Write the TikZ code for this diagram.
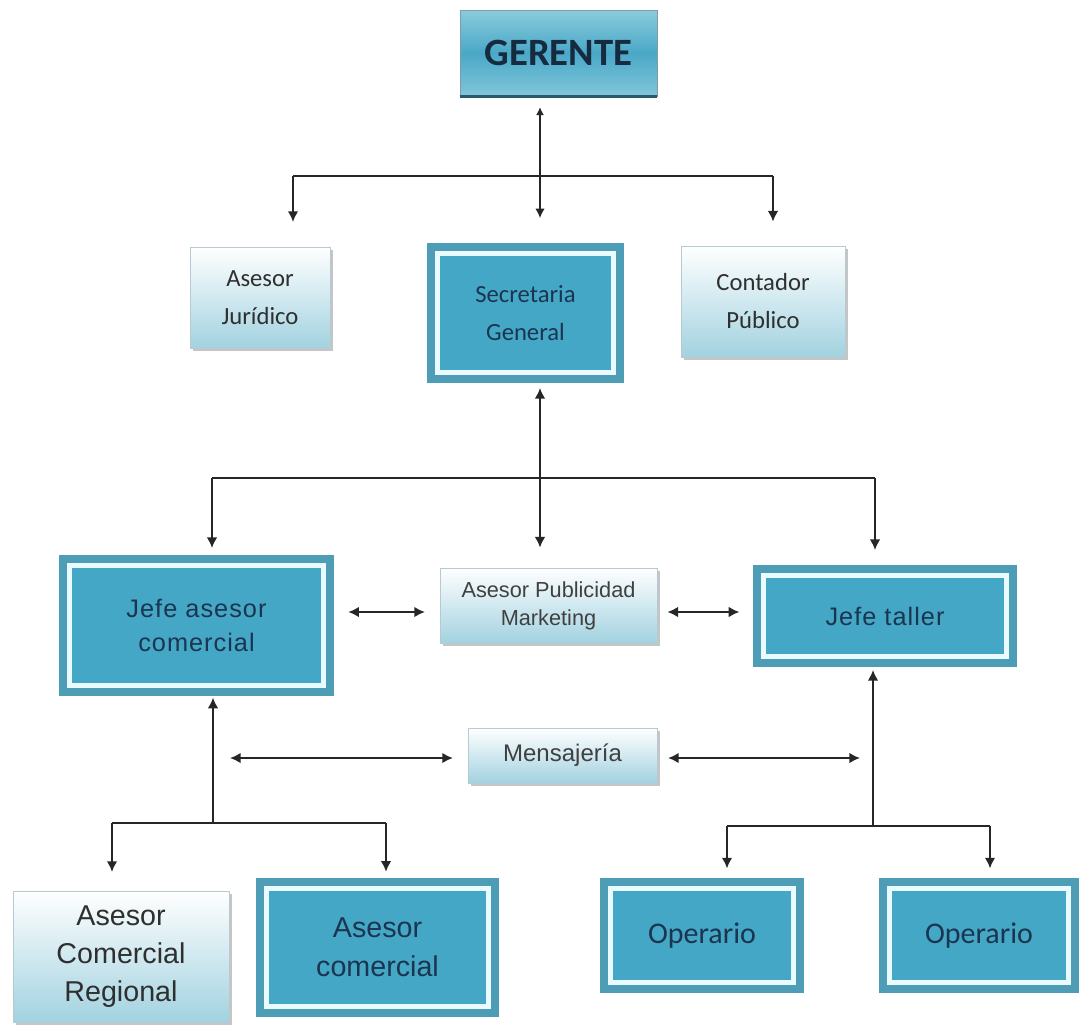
\documentclass[tikz,border=0pt]{standalone}
\usepackage{fontspec}
\setmainfont{Carlito}
\newfontfamily\arialf{Liberation Sans}
\newfontfamily\arialsp[LetterSpace=4]{Liberation Sans}
\usetikzlibrary{arrows.meta,shadows,calc}
\definecolor{tout}{HTML}{4C9DB5}
\definecolor{tin}{HTML}{45A7C6}
\definecolor{tframe}{HTML}{EAFBFF}
\definecolor{ttext}{HTML}{1B3550}
\definecolor{lbot}{HTML}{A2D2E0}
\definecolor{lborder}{HTML}{B5CBD1}
\definecolor{gtop}{HTML}{8ACBDC}
\definecolor{gmid}{HTML}{4AA8C7}
\definecolor{gbot}{HTML}{80C6DA}
\definecolor{gdark}{HTML}{2A5868}
\definecolor{ltext}{HTML}{2F2F2F}
\newcommand\mkbox[7]{%
  \pgfmathsetmacro\bcx{(#2+#4)/2}\pgfmathsetmacro\bcy{(#3+#5)/2}%
  \pgfmathsetmacro\bww{(#4-#2)*0.75}\pgfmathsetmacro\bhh{(#5-#3)*0.75}%
  \node[#6, minimum width=\bww pt, minimum height=\bhh pt] (#1) at (\bcx,\bcy) {#7};}
\begin{document}
\begin{tikzpicture}[x=0.75pt,y=-0.75pt,
  base/.style={rectangle, inner sep=0pt, align=center},
  dbox/.style={base, fill=tout, text=ttext,
    path picture={\draw[tframe, line width=3.6pt, fill=tin]
      ([shift={(7.8pt,7.8pt)}]path picture bounding box.south west) rectangle
      ([shift={(-7.8pt,-7.8pt)}]path picture bounding box.north east);}},
  lbox/.style={base, top color=white, bottom color=lbot, draw=lborder, line width=0.6pt, text=ltext,
    drop shadow={shadow xshift=2pt, shadow yshift=-2.5pt, fill=black!45, opacity=0.5}},
  gbox/.style={base, top color=gtop, bottom color=gbot, middle color=gmid, draw=gdark!60, line width=0.6pt, text=ttext!80!black},
  conn/.style={line width=1.5pt, draw=black!85},
  tip/.style={-{Latex[length=8pt,width=8pt]}},
  tipb/.style={{Latex[length=8pt,width=8pt]}-{Latex[length=8pt,width=8pt]}},
  calf/.style={font=\fontsize{18.5}{28.5}\selectfont},
  arf/.style={font=\arialsp\fontsize{19}{25}\selectfont},
]
\useasboundingbox (0,0) rectangle (1080,1026);
\fill[white] (0,0) rectangle (1080,1026);

% nodes
\mkbox{ger}{460}{10}{657}{96}{gbox, font=\bfseries\fontsize{29}{32}\selectfont}{GERENTE}
\draw[gdark, line width=2.4pt] (ger.south west) -- (ger.south east);
\mkbox{aj}{190}{247}{330}{348}{lbox, calf}{Asesor\\Jurídico}
\mkbox{sec}{427}{243}{624}{383}{dbox, calf}{Secretaria\\General}
\mkbox{cp}{681}{246}{845}{357}{lbox, calf}{Contador\\Público}
\mkbox{jac}{59}{555}{334}{696}{dbox, arf}{Jefe asesor\\comercial}
\mkbox{apm}{440}{568}{657}{643}{lbox, font=\arialf\fontsize{16.3}{21}\selectfont, text=black!75}{Asesor Publicidad\\Marketing}
\mkbox{jt}{753}{565}{1017}{667}{dbox, arf}{Jefe taller}
\mkbox{men}{468}{728}{657}{783}{lbox, font=\arialf\fontsize{18}{21}\selectfont, text=black!75}{Mensajería}
\mkbox{acr}{13}{891}{229}{1022}{lbox, font=\arialf\fontsize{21.5}{28.5}\selectfont}{Asesor\\Comercial\\Regional}
\mkbox{ac}{256}{878}{499}{1017}{dbox, font=\arialf\fontsize{21.5}{29}\selectfont}{Asesor\\comercial}
\mkbox{op1}{600}{878}{804}{993}{dbox, font=\fontsize{22.5}{25}\selectfont}{Operario}
\mkbox{op2}{879}{878}{1079}{993}{dbox, font=\fontsize{22.5}{25}\selectfont}{Operario}

% junction coordinates
\coordinate (g1) at (540,176);
\coordinate (gL) at (293,176);
\coordinate (gR) at (773,176);
\coordinate (s1) at (540,478);
\coordinate (sL) at (212,478);
\coordinate (sR) at (875,478);
\coordinate (r1) at (540,612);
\coordinate (mL) at (230,758);
\coordinate (mR) at (860,758);
\coordinate (j1) at (213,823);
\coordinate (jL) at (112,823);
\coordinate (jR) at (386,823);
\coordinate (t1) at (873,826);
\coordinate (tL) at (727,826);
\coordinate (tR) at (990,826);

% Gerente level
\draw[line width=1.1pt, draw=black!85, {Latex[length=6pt,width=6pt]}-{Latex[length=7pt,width=7pt]},
  shorten <=8pt, shorten >=18.5pt] (ger.south -| g1) -- (sec.north -| g1);
\draw[conn] (gL) -- (gR);
\draw[conn, tip, shorten >=18.5pt] (gL) -- (gL |- aj.north);
\draw[conn, tip, shorten >=18pt] (gR) -- (gR |- cp.north);

% Secretaria level
\draw[conn, tipb, shorten <=3.5pt, shorten >=15pt] (sec.south -| s1) -- (apm.north -| s1);
\draw[conn] (sL) -- (sR);
\draw[conn, tip, shorten >=5pt] (sL) -- (sL |- jac.north);
\draw[conn, tip, shorten >=11pt] (sR) -- (sR |- jt.north);

% middle horizontal arrows
\draw[conn, tipb, shorten <=10.5pt, shorten >=11pt] (jac.east |- r1) -- (apm.west |- r1);
\draw[conn, tipb, shorten <=7.5pt, shorten >=10pt] (apm.east |- r1) -- (jt.west |- r1);

% Mensajeria
\draw[conn, tipb, shorten >=11pt] (mL) -- (men.west |- mL);
\draw[conn, tipb, shorten <=8pt] (men.east |- mR) -- (mR);

% Jefe asesor comercial branch
\draw[conn, {Latex[length=8pt,width=8pt]}-, shorten <=1pt] (jac.south -| j1) -- (j1);
\draw[conn] (jL) -- (jR);
\draw[conn, tip, shorten >=14pt] (jL) -- (jL |- acr.north);
\draw[conn, tip, shorten >=4.5pt] (jR) -- (jR |- ac.north);

% Jefe taller branch
\draw[conn, {Latex[length=8pt,width=8pt]}-, shorten <=2pt] (jt.south -| t1) -- (t1);
\draw[conn] (tL) -- (tR);
\draw[conn, tip, shorten >=7pt] (tL) -- (tL |- op1.north);
\draw[conn, tip, shorten >=7pt] (tR) -- (tR |- op2.north);
\end{tikzpicture}
\end{document}
